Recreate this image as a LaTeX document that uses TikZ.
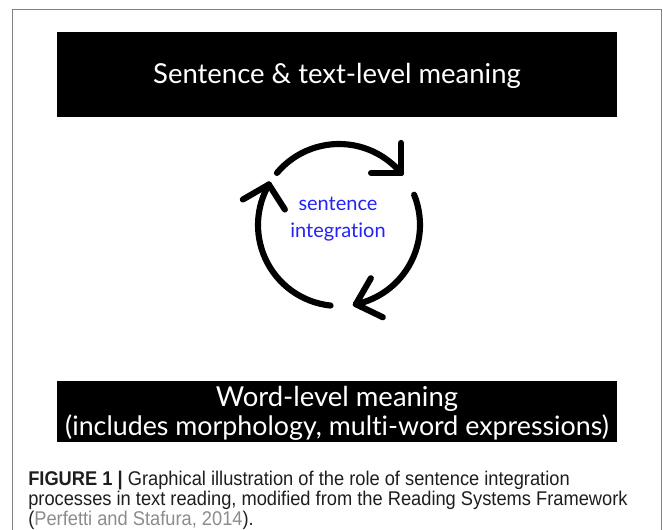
\documentclass[tikz,border=0pt]{standalone}
\usepackage{fontspec}
\setmainfont{Liberation Sans}
\newfontfamily\gillfont[Ligatures={NoCommon}]{Lato}
\newfontfamily\capfont[FakeStretch=0.92]{Liberation Sans}
\definecolor{sentblue}{RGB}{35,35,245}
\definecolor{framegray}{RGB}{130,130,130}
\definecolor{capgray}{RGB}{140,140,140}
\definecolor{captext}{RGB}{30,30,30}
\tikzset{
  levelbox/.style={fill=black, draw=none},
  boxtext/.style={text=white, font=\gillfont\fontsize{20.6}{24}\selectfont, align=center},
  cycarc/.style={line width=4.6pt, line cap=round, draw=black},
  arm/.style={line width=4.6pt, line cap=round, draw=black},
  captionline/.style={anchor=base west, inner sep=0pt, text=captext, font=\capfont\fontsize{14.9}{18}\selectfont}
}
\begin{document}
\begin{tikzpicture}[x=0.75pt, y=-0.75pt]
\useasboundingbox (0,0) rectangle (663,529);
% outer frame
\draw[framegray, line width=1.1pt] (12.5,540) -- (12.5,9.5) -- (661.5,9.5) -- (661.5,540);
% top box
\fill[levelbox] (57,32) rectangle (617,117);
\node[boxtext] (top) at (337,76) {Sentence \& text-level meaning};
% bottom box
\fill[levelbox] (57,381) rectangle (617,442);
\node[boxtext, inner sep=0pt] (word) at (337,399) {Word-level meaning};
\node[boxtext, inner sep=0pt, font=\gillfont\fontsize{20.1}{24}\selectfont] (incl) at (337,428) {(includes morphology, multi-word expressions)};
% cycle
\coordinate (c) at (339,225);
\node[text=sentblue, font=\gillfont\fontsize{15}{20}\selectfont, align=center] (si) at (338,219) {sentence\\integration};
% top arc
\draw[cycarc] (c) ++(-140:81) arc[start angle=-140, end angle=-40, radius=81] coordinate (t1);
\draw[arm] (t1) -- ++(-30,0);
\draw[arm] (t1) -- ++(0,-30);
% right arc
\draw[cycarc] (c) ++(-22:81) arc[start angle=-22, end angle=78, radius=81] coordinate (t2);
\draw[arm] (t2) -- ++(15,-26);
\draw[arm] (t2) -- ++(27,13);
% left arc
\draw[cycarc] (c) ++(96:81) arc[start angle=96, end angle=210, radius=81] coordinate (t3);
\draw[arm] (t3) -- ++(-26,15);
\draw[arm] (t3) -- ++(16,25);
% caption
\node[captionline] (cap1) at (28,485) {\textbf{FIGURE 1 |} Graphical illustration of the role of sentence integration};
\node[captionline] (cap2) at (28,505.5) {processes in text reading, modified from the Reading Systems Framework};
\node[captionline] (cap3) at (28,525.5) {(\textcolor{capgray}{Perfetti and Stafura, 2014}).};
\end{tikzpicture}
\end{document}
